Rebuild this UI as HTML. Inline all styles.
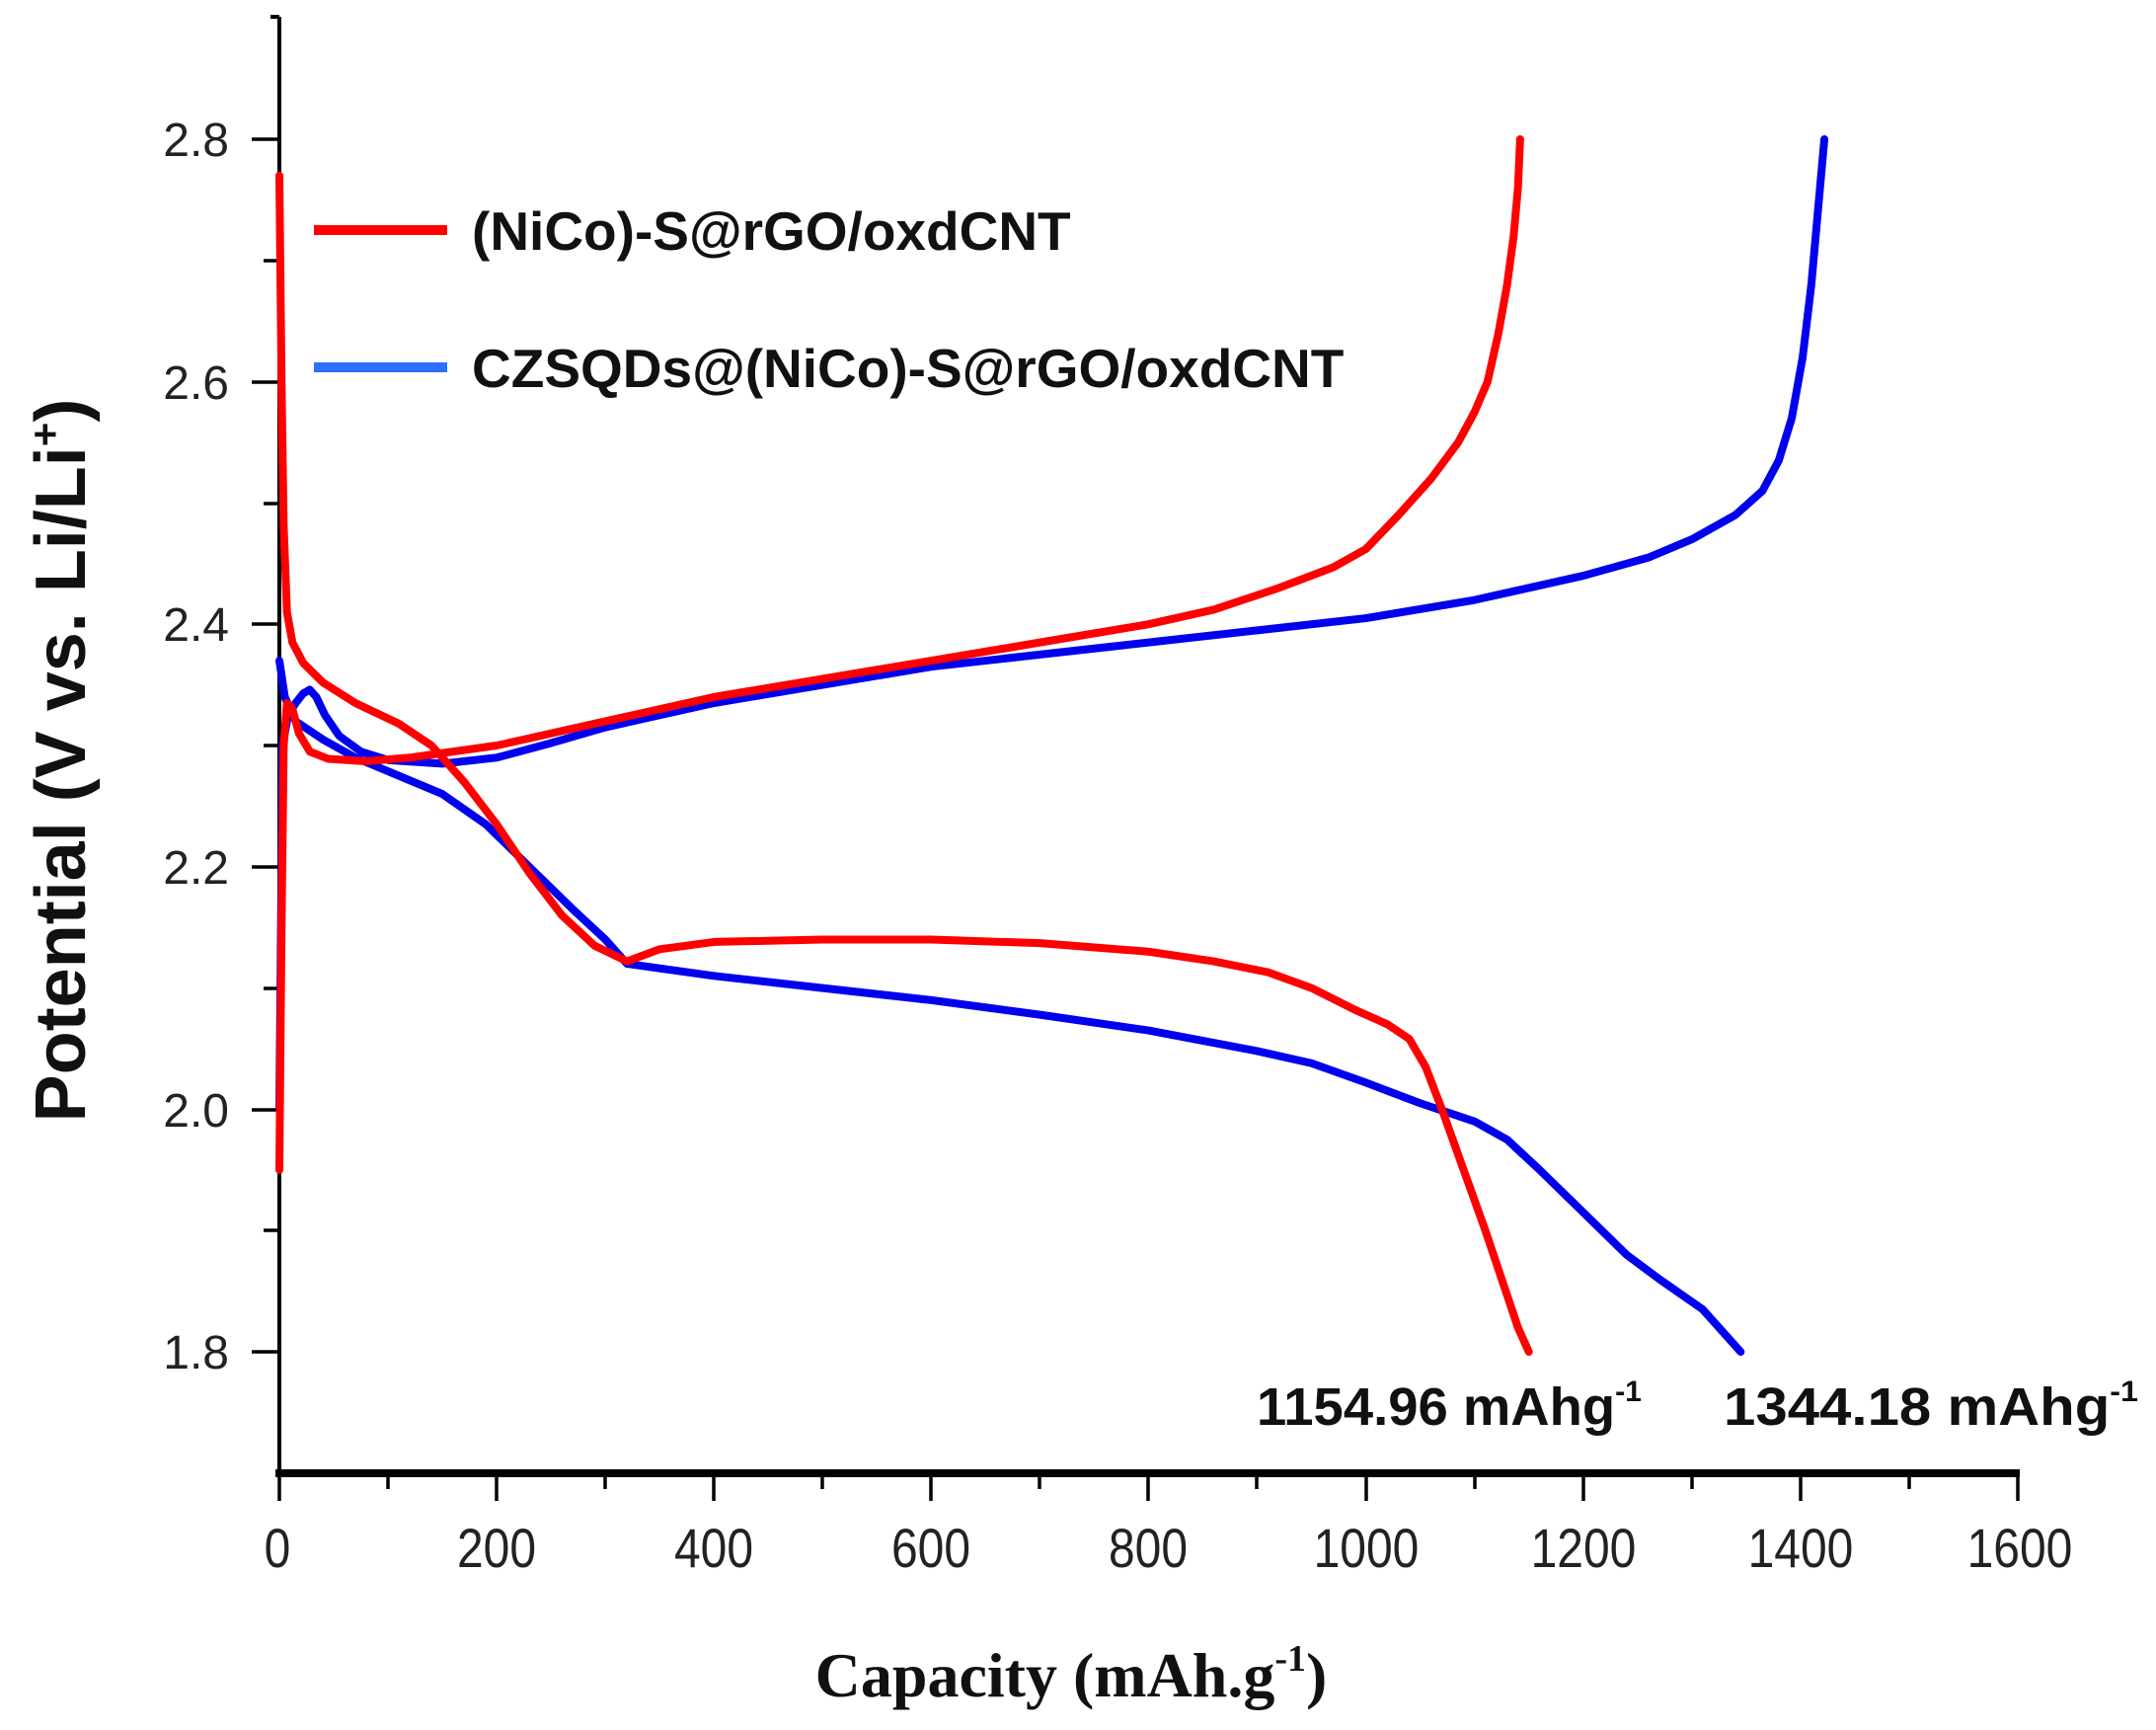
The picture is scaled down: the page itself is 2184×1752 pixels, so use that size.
<!DOCTYPE html>
<html><head><meta charset="utf-8"><style>
html,body{margin:0;padding:0;background:#fff;}
svg{display:block;}
</style></head><body>
<svg width="2184" height="1752" viewBox="0 0 2184 1752" xmlns="http://www.w3.org/2000/svg">
<rect width="2184" height="1752" fill="#fff"/>
<line x1="283" y1="17" x2="283" y2="1494" stroke="#000" stroke-width="4"/>
<line x1="274" y1="17" x2="283" y2="17" stroke="#000" stroke-width="4"/>
<line x1="279" y1="1492" x2="2046" y2="1492" stroke="#000" stroke-width="8"/>
<g stroke="#000" stroke-width="3.5">
<line x1="283" y1="1492" x2="283" y2="1520"/><line x1="393" y1="1492" x2="393" y2="1508"/>
<line x1="503" y1="1492" x2="503" y2="1520"/><line x1="613" y1="1492" x2="613" y2="1508"/>
<line x1="723" y1="1492" x2="723" y2="1520"/><line x1="833" y1="1492" x2="833" y2="1508"/>
<line x1="943" y1="1492" x2="943" y2="1520"/><line x1="1053" y1="1492" x2="1053" y2="1508"/>
<line x1="1163" y1="1492" x2="1163" y2="1520"/><line x1="1273" y1="1492" x2="1273" y2="1508"/>
<line x1="1384" y1="1492" x2="1384" y2="1520"/><line x1="1494" y1="1492" x2="1494" y2="1508"/>
<line x1="1604" y1="1492" x2="1604" y2="1520"/><line x1="1714" y1="1492" x2="1714" y2="1508"/>
<line x1="1824" y1="1492" x2="1824" y2="1520"/><line x1="1934" y1="1492" x2="1934" y2="1508"/>
<line x1="2044" y1="1492" x2="2044" y2="1520"/>
<line x1="255" y1="141" x2="283" y2="141"/><line x1="267" y1="264" x2="283" y2="264"/>
<line x1="255" y1="387" x2="283" y2="387"/><line x1="267" y1="510" x2="283" y2="510"/>
<line x1="255" y1="632" x2="283" y2="632"/><line x1="267" y1="755" x2="283" y2="755"/>
<line x1="255" y1="878" x2="283" y2="878"/><line x1="267" y1="1001" x2="283" y2="1001"/>
<line x1="255" y1="1124" x2="283" y2="1124"/><line x1="267" y1="1246" x2="283" y2="1246"/>
<line x1="255" y1="1369" x2="283" y2="1369"/>
</g>
<g font-family="Liberation Sans, sans-serif" font-size="48" fill="#222" text-anchor="end">
<text x="232" y="158">2.8</text><text x="232" y="404">2.6</text><text x="232" y="649">2.4</text>
<text x="232" y="895">2.2</text><text x="232" y="1141">2.0</text><text x="232" y="1386">1.8</text>
</g>
<g font-family="Liberation Sans, sans-serif" font-size="48" fill="#222" text-anchor="middle" transform="translate(0,1587) scale(1,1.15)">
<text x="281" y="0">0</text><text x="503" y="0">200</text><text x="723" y="0">400</text><text x="943" y="0">600</text>
<text x="1163" y="0">800</text><text x="1384" y="0">1000</text><text x="1604" y="0">1200</text><text x="1824" y="0">1400</text><text x="2046" y="0">1600</text>
</g>
<text x="1085" y="1718" text-anchor="middle" font-family="Liberation Serif, serif" font-weight="bold" font-size="64" fill="#111">Capacity (mAh.g<tspan font-size="38" dy="-26">-1</tspan><tspan dy="26">)</tspan></text>
<text transform="translate(86,770) rotate(-90)" text-anchor="middle" font-family="Liberation Sans, sans-serif" font-weight="bold" font-size="72" fill="#111">Potential (V vs. Li/Li<tspan font-size="42" dy="-26">+</tspan><tspan dy="26">)</tspan></text>
<line x1="318" y1="233" x2="453" y2="233" stroke="#ff0000" stroke-width="10"/>
<line x1="318" y1="372" x2="453" y2="372" stroke="#2f6fff" stroke-width="10"/>
<g font-family="Liberation Sans, sans-serif" font-weight="bold" font-size="55" fill="#111">
<text x="478" y="253">(NiCo)-S@rGO/oxdCNT</text>
<text x="478" y="392">CZSQDs@(NiCo)-S@rGO/oxdCNT</text>
</g>
<g font-family="Liberation Sans, sans-serif" font-weight="bold" font-size="54" fill="#111">
<text x="1273" y="1443" textLength="390" lengthAdjust="spacingAndGlyphs">1154.96 mAhg<tspan font-size="30" dy="-24">-1</tspan></text>
<text x="1746" y="1443" textLength="420" lengthAdjust="spacingAndGlyphs">1344.18 mAhg<tspan font-size="30" dy="-24">-1</tspan></text>
</g>
<g transform="translate(283,141) scale(1.1006,-1228) translate(0,-2.8)" fill="none" stroke-linejoin="round" stroke-linecap="round">
<polyline vector-effect="non-scaling-stroke" stroke="#0000ee" stroke-width="8" points="0,2.0 3,2.3 8,2.325 15,2.335 22,2.343 28,2.346 34,2.34 42,2.325 55,2.308 75,2.295 100,2.288 150,2.285 200,2.29 250,2.302 300,2.315 400,2.335 500,2.35 600,2.365 700,2.375 800,2.385 900,2.395 1000,2.405 1100,2.42 1200,2.44 1260,2.455 1300,2.47 1340,2.49 1365,2.51 1380,2.535 1392,2.57 1402,2.62 1410,2.68 1416,2.74 1422,2.8"/>
<polyline vector-effect="non-scaling-stroke" stroke="#0000ee" stroke-width="8" points="0,2.37 5,2.34 15,2.32 40,2.305 70,2.29 110,2.275 150,2.26 190,2.235 230,2.2 270,2.165 300,2.14 320,2.12 360,2.115 400,2.11 500,2.1 600,2.09 700,2.078 800,2.065 900,2.048 950,2.038 1000,2.022 1050,2.005 1100,1.99 1130,1.975 1160,1.95 1200,1.915 1240,1.88 1270,1.86 1310,1.835 1345,1.8"/>
<polyline vector-effect="non-scaling-stroke" stroke="#ff0000" stroke-width="8" points="0,1.95 2,2.15 4,2.3 7,2.335 12,2.33 18,2.31 28,2.295 45,2.289 80,2.287 120,2.29 200,2.3 300,2.32 400,2.34 500,2.355 600,2.37 700,2.385 800,2.4 860,2.412 920,2.43 970,2.447 1000,2.462 1030,2.49 1060,2.52 1085,2.55 1100,2.575 1112,2.6 1122,2.64 1130,2.68 1136,2.72 1140,2.76 1142,2.8"/>
<polyline vector-effect="non-scaling-stroke" stroke="#ff0000" stroke-width="8" points="0,2.77 2,2.6 4,2.48 7,2.41 12,2.385 22,2.368 40,2.352 70,2.335 110,2.318 140,2.3 170,2.27 200,2.235 230,2.195 260,2.16 290,2.135 320,2.122 350,2.132 400,2.138 500,2.14 600,2.14 700,2.137 800,2.13 860,2.122 910,2.113 950,2.1 990,2.082 1020,2.07 1040,2.058 1055,2.035 1070,2.0 1090,1.95 1110,1.9 1125,1.86 1140,1.82 1150,1.8"/>
</g>
</svg>
</body></html>
